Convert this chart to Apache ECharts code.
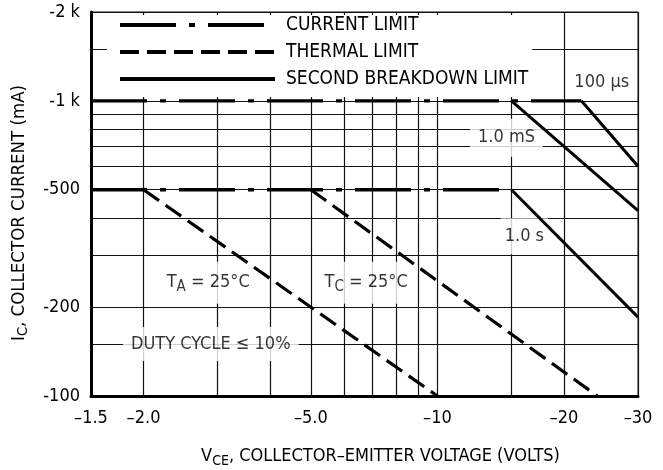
<!DOCTYPE html>
<html>
<head>
<meta charset="utf-8">
<script src="https://cdn.jsdelivr.net/npm/echarts@6/dist/echarts.min.js"></script>
<style>
  html, body { margin: 0; padding: 0; background: #fff; }
  #chart { width: 663px; height: 470px; }
</style>
</head>
<body>
<div id="chart"></div>
<script>
// values (magnitudes, volts / mA)
const xGrid = [1.5, 2, 3, 4, 5, 6, 7, 8, 9, 10, 15, 20, 30];
const xLabels = [1.5, 2, 5, 10, 20, 30];
const yGrid = [100, 150, 200, 300, 400, 500, 600, 700, 800, 900, 1000, 1500, 2000];
const yLabels = [100, 200, 500, 1000, 2000];

const currentLimit1k = [[1.5, 1000], [22, 1000]];
const currentLimit500 = [[1.5, 500], [15, 500]];
const thermalTA = [[2, 500], [10, 100]];
const thermalTC = [[5, 500], [24, 100]];
const sb100us = [[22, 1000], [30, 600]];
const sb1ms = [[15, 1000], [30, 425]];
const sb1s = [[15, 500], [30, 185]];

const FONT = "'Liberation Sans Narrow', 'Arial Narrow', 'DejaVu Sans Condensed', sans-serif";
const INK = '#000';
const DASH_DOT = [56, 13, 6, 13];
const DASHED = [19, 8];

// text notes, anchored in data space
const notes = [
  { at: [24.6, 1155], text: '100 μs', pad: [2, 2] },
  { at: [14.6, 750], text: '1.0 mS', pad: [10, 8] },
  { at: [16.1, 348], text: '1.0 s', pad: [9, 4] },
  { at: [2.85, 242], text: '{t|T}{s|A}{t| = 25°C}', pad: [9, 3] },
  { at: [6.77, 242], text: '{t|T}{s|C}{t| = 25°C}', pad: [9, 3] },
  { at: [2.89, 150], text: 'DUTY CYCLE ≤ 10%', pad: [8, 8] }
];

const chart = echarts.init(document.getElementById('chart'));

function line(name, data, dash, width) {
  return {
    name: name,
    type: 'line',
    data: data,
    symbol: 'none',
    silent: true,
    z: 2,
    lineStyle: { color: INK, width: width, type: dash }
  };
}

function subscriptRich(size) {
  return {
    a: { fontFamily: FONT, fontSize: size, color: INK, lineHeight: size + 6, verticalAlign: 'middle' },
    s: { fontFamily: FONT, fontSize: size - 4, color: INK, verticalAlign: 'bottom' }
  };
}

chart.setOption({
  animation: false,
  textStyle: { fontFamily: FONT, color: INK },
  grid: {
    left: 91, right: 25, top: 12, bottom: 74,
    outerBoundsMode: 'none',
    show: true, borderColor: '#111', borderWidth: 1
  },
  legend: {
    data: ['CURRENT LIMIT', 'THERMAL LIMIT', 'SECOND BREAKDOWN LIMIT'],
    orient: 'vertical',
    left: 107, top: 15,
    padding: [0, 4, 8, 11],
    backgroundColor: '#fff',
    itemWidth: 155, itemHeight: 20, itemGap: 7,
    itemStyle: { opacity: 0 },
    lineStyle: { width: 4 },
    selectedMode: false,
    textStyle: { fontFamily: FONT, fontSize: 19, color: INK, lineHeight: 20, padding: [0, 0, 0, 6] }
  },
  xAxis: {
    type: 'log', min: 1.5, max: 30,
    name: '{a|V}{s|CE}{a|, COLLECTOR–EMITTER VOLTAGE (VOLTS)}',
    nameLocation: 'middle', nameGap: 48,
    nameTextStyle: { padding: [0, 0, 0, 32], rich: subscriptRich(18) },
    axisLine: { lineStyle: { color: INK, width: 3 } },
    axisTick: { show: false, customValues: xGrid },
    axisLabel: {
      customValues: xLabels, margin: 13,
      fontFamily: FONT, fontSize: 18, color: INK,
      formatter: v => '–' + (v < 10 ? Number(v).toFixed(1) : String(Math.round(v)))
    },
    splitLine: { show: true, lineStyle: { color: '#111', width: 1.2 } }
  },
  yAxis: {
    type: 'log', min: 100, max: 2000,
    name: '{a|I}{s|C}{a|, COLLECTOR CURRENT (mA)}',
    nameLocation: 'middle', nameGap: 60, nameRotate: 90,
    nameTextStyle: { padding: [0, 18, 0, 0], rich: subscriptRich(18.5) },
    axisLine: { show: true, lineStyle: { color: INK, width: 3 } },
    axisTick: { show: false, customValues: yGrid },
    axisLabel: {
      customValues: yLabels, margin: 11,
      fontFamily: FONT, fontSize: 18, color: INK,
      formatter: v => '-' + (v >= 1000 ? (v / 1000) + ' k' : String(Math.round(v)))
    },
    splitLine: { show: true, lineStyle: { color: '#111', width: 1.2 } }
  },
  series: [
    line('CURRENT LIMIT', currentLimit1k, DASH_DOT, 3.4),
    line('CURRENT LIMIT', currentLimit500, DASH_DOT, 3.4),
    line('THERMAL LIMIT', thermalTA, DASHED, 3.2),
    line('THERMAL LIMIT', thermalTC, DASHED, 3.2),
    line('SECOND BREAKDOWN LIMIT', sb1s, 'solid', 3),
    line('SECOND BREAKDOWN LIMIT', sb1ms, 'solid', 3),
    line('SECOND BREAKDOWN LIMIT', sb100us, 'solid', 3),
    {
      name: 'notes',
      type: 'scatter',
      silent: true,
      z: 1,
      symbolSize: 0,
      data: notes.map(n => ({
        value: n.at,
        label: {
          show: true, position: 'inside', formatter: n.text,
          backgroundColor: '#fff', padding: n.pad,
          fontFamily: FONT, fontSize: 18, color: INK,
          rich: {
            t: { fontFamily: FONT, fontSize: 18, color: INK, lineHeight: 24, verticalAlign: 'middle' },
            s: { fontFamily: FONT, fontSize: 15, color: INK, verticalAlign: 'bottom' }
          }
        }
      }))
    }
  ]
});
</script>
</body>
</html>
